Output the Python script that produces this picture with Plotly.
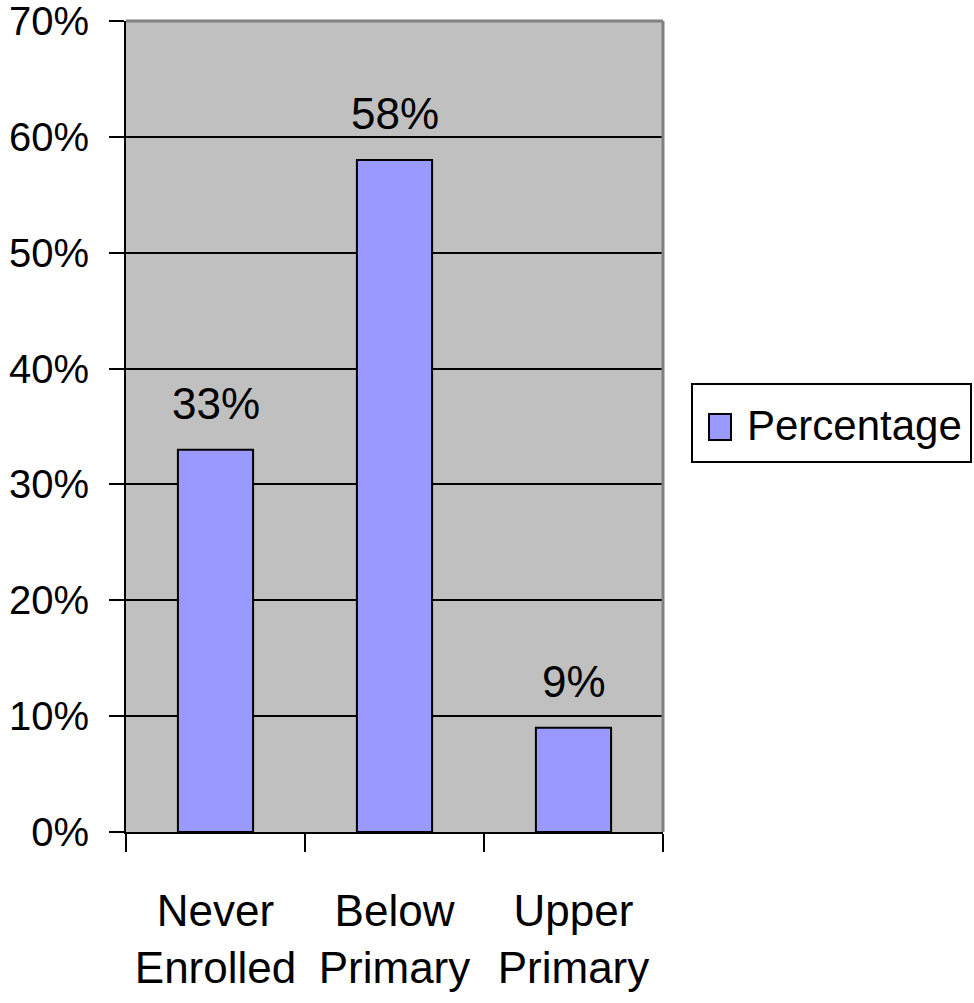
import plotly.graph_objects as go

categories = ["Never Enrolled", "Below Primary", "Upper Primary"]
tick_labels = ["Never<br>Enrolled", "Below<br>Primary", "Upper<br>Primary"]
values = [33, 58, 9]
series_name = "Percentage"
y_ticks = [0, 10, 20, 30, 40, 50, 60, 70]
y_tick_labels = ["0%", "10%", "20%", "30%", "40%", "50%", "60%", "70%"]

FONT = "Liberation Sans, Arial, sans-serif"
BAR_COLOR = "#9999FF"

W, H = 974, 1003
L, R, T, B = 126, 311, 21, 171
PW, PH = W - L - R, H - T - B


def px_x(px):
    return (px - L) / PW


def px_y(py):
    return (H - B - py) / PH


fig = go.Figure()
fig.add_trace(go.Bar(
    x=categories,
    y=values,
    name=series_name,
    marker=dict(color=BAR_COLOR, line=dict(color="black", width=2)),
    showlegend=False,
))

# value labels above bars
for c, v in zip(categories, values):
    fig.add_annotation(x=c, y=v, text=f"{v}%", showarrow=False,
                       yanchor="bottom", yshift=20,
                       font=dict(family=FONT, size=44, color="black"))

fig.update_layout(
    width=W,
    height=H,
    margin=dict(l=L, r=R, t=T, b=B, autoexpand=False),
    paper_bgcolor="white",
    plot_bgcolor="#C0C0C0",
    bargap=0.58,
    font=dict(family=FONT, size=44, color="black"),
    showlegend=False,
)

fig.update_xaxes(
    tickvals=categories,
    ticktext=tick_labels,
    tickson="boundaries",
    ticks="outside",
    ticklen=18,
    tickwidth=2,
    tickcolor="black",
    showline=True,
    linecolor="black",
    linewidth=2,
    showgrid=False,
    tickfont=dict(family=FONT, size=44, color="black"),
    ticklabelstandoff=39,
)

fig.update_yaxes(
    range=[0, 70],
    tickmode="array",
    tickvals=y_ticks,
    ticktext=y_tick_labels,
    ticks="outside",
    ticklen=15,
    tickwidth=2,
    tickcolor="black",
    showline=True,
    linecolor="black",
    linewidth=2,
    showgrid=True,
    gridcolor="black",
    gridwidth=2,
    zeroline=False,
    tickfont=dict(family=FONT, size=40, color="black"),
    ticklabelstandoff=12,
    ticklabeloverflow="allow",
)

# gray frame at top and right of the plot area
fig.add_shape(type="line", xref="paper", yref="paper", x0=0, x1=1, y0=1, y1=1,
              line=dict(color="#808080", width=3), layer="above")
fig.add_shape(type="line", xref="paper", yref="paper", x0=1, x1=1, y0=0, y1=1,
              line=dict(color="#808080", width=3), layer="above")

# legend box drawn manually (to match large symbol)
fig.add_shape(type="rect", xref="paper", yref="paper",
              x0=px_x(692), x1=px_x(971), y0=px_y(462), y1=px_y(384),
              line=dict(color="black", width=2), fillcolor="white")
fig.add_shape(type="rect", xref="paper", yref="paper",
              x0=px_x(709), x1=px_x(731), y0=px_y(440), y1=px_y(414),
              line=dict(color="black", width=2), fillcolor=BAR_COLOR)
fig.add_annotation(xref="paper", yref="paper", x=px_x(745), y=px_y(425),
                   xanchor="left", yanchor="middle", showarrow=False,
                   text=series_name,
                   font=dict(family=FONT, size=42, color="black"))

fig.write_html("out.html")
